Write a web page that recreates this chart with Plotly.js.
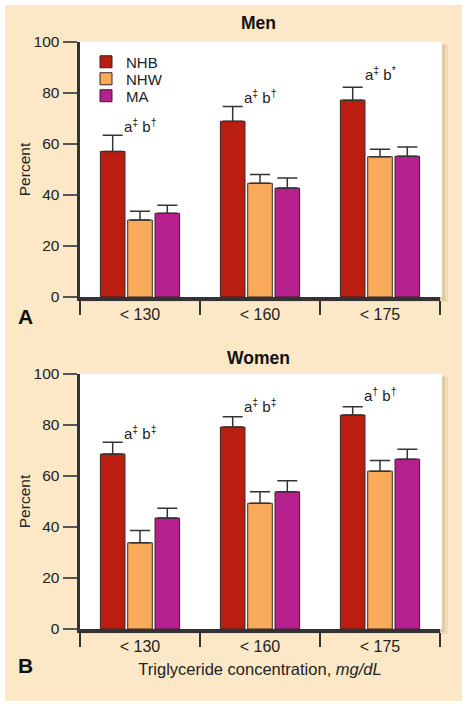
<!DOCTYPE html>
<html>
<head>
<meta charset="utf-8">
<script src="https://cdn.plot.ly/plotly-3.0.1.min.js"></script>
<style>html,body{margin:0;padding:0;background:#fff;}#chart{width:467px;height:706px;}</style>
</head>
<body>
<div id="chart"></div>
<script>
// ---- data ----
const categories = ["< 130", "< 160", "< 175"];
const groups = ["NHB", "NHW", "MA"];
const menValues = {
  NHB: [57.1, 68.9, 77.2],
  NHW: [30.2, 44.6, 55.0],
  MA:  [32.8, 42.7, 55.2]
};
const menErrUpper = {
  NHB: [6.3, 5.8, 5.1],
  NHW: [3.4, 3.4, 2.9],
  MA:  [3.2, 4.0, 3.6]
};
const womenValues = {
  NHB: [68.6, 79.2, 83.9],
  NHW: [33.8, 49.3, 61.9],
  MA:  [43.5, 53.8, 66.6]
};
const womenErrUpper = {
  NHB: [4.6, 4.0, 3.3],
  NHW: [4.8, 4.5, 4.2],
  MA:  [3.9, 4.3, 3.9]
};
const menLabels = ["a<sup>‡</sup> b<sup>†</sup>", "a<sup>‡</sup> b<sup>†</sup>", "a<sup>‡</sup> b<sup>*</sup>"];
const menLabelY = [67.3, 78.8, 87.6];
const womenLabels = ["a<sup>‡</sup> b<sup>‡</sup>", "a<sup>‡</sup> b<sup>‡</sup>", "a<sup>†</sup> b<sup>†</sup>"];
const womenLabelY = [77.1, 87.5, 91.8];
const yTicks = [0, 20, 40, 60, 80, 100];

// ---- styling ----
const colors = { NHB: "#B91E10", NHW: "#FAAA5B", MA: "#B51F8E" };
const legendIds = { NHB: "legend", NHW: "legend2", MA: "legend3" };
const W = 467, H = 706;
const px = x => x / W;
const py = y => 1 - y / H;
const FONT = "Liberation Sans, Arial, Helvetica, sans-serif";
const tickText = categories.map(c => c.replace("<", "&lt;"));

const traces = [];
groups.forEach(g => {
  traces.push({
    type: "bar", name: g, x: categories, y: menValues[g],
    xaxis: "x", yaxis: "y", showlegend: true, legend: legendIds[g],
    marker: { color: colors[g], line: { color: "#3a2222", width: 1 } },
    error_y: { type: "data", symmetric: false, array: menErrUpper[g],
      arrayminus: menErrUpper[g].map(() => 0), color: "#333", thickness: 1.5, width: 10 }
  });
});
groups.forEach(g => {
  traces.push({
    type: "bar", name: g, x: categories, y: womenValues[g],
    xaxis: "x2", yaxis: "y2", showlegend: false,
    marker: { color: colors[g], line: { color: "#3a2222", width: 1 } },
    error_y: { type: "data", symmetric: false, array: womenErrUpper[g],
      arrayminus: womenErrUpper[g].map(() => 0), color: "#333", thickness: 1.5, width: 10 }
  });
});

function xAxis(anchor) {
  return {
    anchor: anchor, domain: [px(80), px(440)], type: "category",
    categoryorder: "array", categoryarray: categories,
    range: [-0.5, 2.5], tickvals: categories, ticktext: tickText,
    tickson: "boundaries", ticks: "outside", ticklen: 14, tickwidth: 1.5, tickcolor: "#333",
    showline: true, linecolor: "#333", linewidth: 3.5, showgrid: false, zeroline: false,
    tickfont: { family: FONT, size: 16, color: "#222" }, fixedrange: true
  };
}
function yAxis(anchor, dom) {
  return {
    anchor: anchor, domain: dom, range: [0, 100], tickvals: yTicks,
    ticks: "outside", ticklen: 14, tickwidth: 1.5, tickcolor: "#555",
    showline: true, linecolor: "#333", linewidth: 3.5, showgrid: false, zeroline: false,
    tickfont: { family: FONT, size: 15.5, color: "#222" },
    title: { text: "Percent", font: { family: FONT, size: 15.5, color: "#222" }, standoff: 0 },
    fixedrange: true
  };
}

const shapes = [
  { type: "rect", xref: "paper", yref: "paper", x0: px(5), x1: px(462), y0: py(701), y1: py(5),
    fillcolor: "#FCE8C6", line: { width: 0 }, layer: "below" }
];
[[42, 297], [374, 629]].forEach(([t, b]) => {
  shapes.push({ type: "rect", xref: "paper", yref: "paper", x0: px(82), x1: px(448), y0: py(b + 5), y1: py(t + 3),
    fillcolor: "rgba(130,95,45,0.10)", line: { width: 0 }, layer: "below" });
  shapes.push({ type: "rect", xref: "paper", yref: "paper", x0: px(81), x1: px(445), y0: py(b + 3), y1: py(t + 2),
    fillcolor: "rgba(130,95,45,0.14)", line: { width: 0 }, layer: "below" });
  shapes.push({ type: "rect", xref: "paper", yref: "paper", x0: px(80), x1: px(442), y0: py(b), y1: py(t),
    fillcolor: "#FFFFFF", line: { width: 0 }, layer: "below" });
});

const annotations = [];
categories.forEach((c, i) => {
  annotations.push({ xref: "x", yref: "y", x: c, y: menLabelY[i], text: menLabels[i],
    showarrow: false, font: { family: FONT, size: 15, color: "#222" }, yanchor: "middle" });
  annotations.push({ xref: "x2", yref: "y2", x: c, y: womenLabelY[i], text: womenLabels[i],
    showarrow: false, font: { family: FONT, size: 15, color: "#222" }, yanchor: "middle" });
});
annotations.push({ xref: "paper", yref: "paper", x: px(258), y: py(23), text: "<b>Men</b>",
  showarrow: false, font: { family: FONT, size: 17.5, color: "#111" }, xanchor: "center", yanchor: "middle" });
annotations.push({ xref: "paper", yref: "paper", x: px(258), y: py(358), text: "<b>Women</b>",
  showarrow: false, font: { family: FONT, size: 17.5, color: "#111" }, xanchor: "center", yanchor: "middle" });
annotations.push({ xref: "paper", yref: "paper", x: px(16), y: py(316), text: "<b>A</b>",
  showarrow: false, font: { family: FONT, size: 21, color: "#111" }, xanchor: "left", yanchor: "middle" });
annotations.push({ xref: "paper", yref: "paper", x: px(16), y: py(665), text: "<b>B</b>",
  showarrow: false, font: { family: FONT, size: 21, color: "#111" }, xanchor: "left", yanchor: "middle" });

const xa2 = xAxis("y2");
xa2.title = { text: "Triglyceride concentration, <i>mg/dL</i>", font: { family: FONT, size: 16.5, color: "#222" }, standoff: 10 };

function legendAt(yc) {
  return { x: px(86), y: py(yc), xanchor: "left", yanchor: "middle", bgcolor: "rgba(0,0,0,0)",
    font: { family: FONT, size: 15, color: "#222" } };
}

const layout = {
  width: W, height: H,
  margin: { l: 0, r: 0, t: 0, b: 0, pad: 0 },
  paper_bgcolor: "#FFFFFF", plot_bgcolor: "rgba(0,0,0,0)",
  barmode: "group", bargap: 0.317, bargroupgap: 0.1,
  font: { family: FONT, color: "#222" },
  xaxis: xAxis("y"), yaxis: yAxis("x", [py(297), py(42)]),
  xaxis2: xa2, yaxis2: yAxis("x2", [py(629), py(374)]),
  legend: legendAt(62), legend2: legendAt(79), legend3: legendAt(96),
  shapes: shapes, annotations: annotations
};

Plotly.newPlot("chart", traces, layout, { displayModeBar: false, staticPlot: true });
</script>
</body>
</html>
